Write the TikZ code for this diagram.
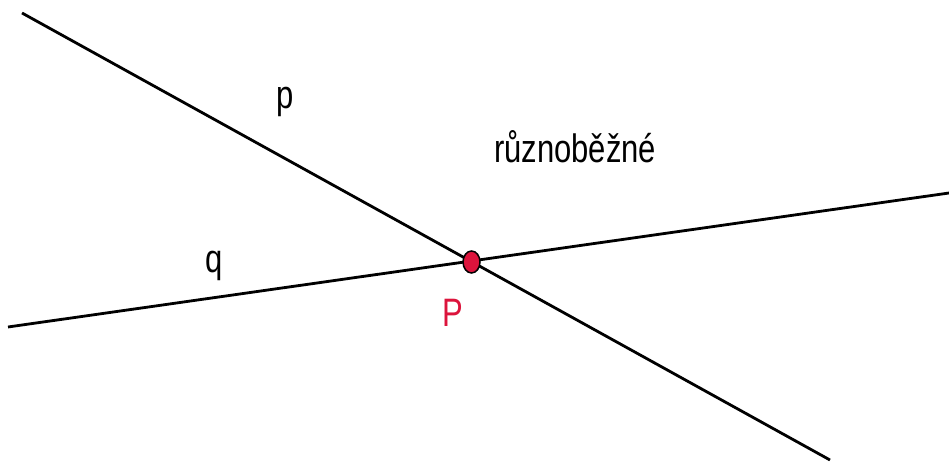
\documentclass[tikz,border=0pt]{standalone}
\usepackage{fontspec}
\setmainfont{Liberation Sans}
\usepackage{tikz}
\usetikzlibrary{shapes.geometric}
\definecolor{pointred}{RGB}{220,20,60}

\begin{document}
\begin{tikzpicture}[
  x=1pt, y=1pt,
  line/.style={draw=black, line width=2.8pt},
  lbl/.style={anchor=base, inner sep=0pt, font=\fontsize{31}{31}\selectfont, yscale=1.28, transform shape},
  pt/.style={ellipse, draw=black, line width=1.5pt, fill=pointred, minimum width=17pt, minimum height=22pt, inner sep=0pt}
]
\useasboundingbox (0,0) rectangle (949,462);
\coordinate (p1) at (22,449);
\coordinate (p2) at (830,2);
\coordinate (q1) at (8,135);
\coordinate (q2) at (949,269);
\draw[line] (p1) -- (p2);
\draw[line] (q1) -- (q2);
\node[pt] (P) at (471.5,200) {};
\node[lbl] (plabel) at (285.5,353) {p};
\node[lbl] (qlabel) at (214.5,189) {q};
\node[lbl, text=pointred] (Plabel) at (453,135) {P};
\node[lbl] (title) at (575,299) {různoběžné};
\end{tikzpicture}
\end{document}
